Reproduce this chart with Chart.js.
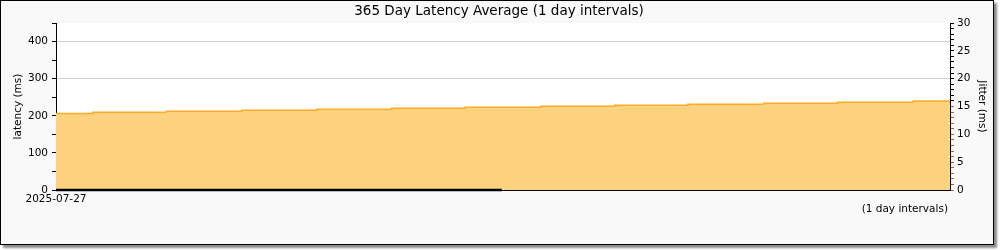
<!DOCTYPE html>
<html><head><meta charset="utf-8">
<script src="https://cdn.jsdelivr.net/npm/chart.js@4.4.0/dist/chart.umd.min.js"></script>
<style>
html,body{margin:0;padding:0;background:#fff;}
#frame{position:absolute;left:0;top:0;width:992px;height:243px;border:1px solid #000;background:#f9f9f9;box-shadow:3px 3px 2px rgba(0,0,0,0.45);}
#wrap{position:absolute;left:0;top:0;width:1000px;height:250px;}
#title{position:absolute;left:0;width:998px;top:2px;text-align:center;font:13.5px "DejaVu Sans";color:#000;line-height:16px;}
#note{position:absolute;left:0;width:948px;top:201px;text-align:right;font:10.5px "DejaVu Sans";color:#000;line-height:14px;}
</style>
</head><body>
<div id="frame"></div>
<div id="wrap"><canvas id="c" width="1000" height="250"></canvas></div>
<div id="title">365 Day Latency Average (1 day intervals)</div>
<div id="note">(1 day intervals)</div>
<script>
// Step boundaries (day index from 2025-07-27) and average latency per step
const segmentStartDay = [0, 15, 45, 76, 106.5, 137, 167, 198, 228, 258, 289, 319, 350, 365];
const latencyAvgMs   = [206, 209.5, 212, 215, 217.7, 220.4, 223, 225.9, 228.6, 231.3, 234, 236.7, 239.5, 239.5];
const jitterDays = [0, 182];
const jitterMs   = [0, 0];
const xTickLabels = ['2025-07-27'];
const latencyTicksMax = 450;
const jitterTicksMax = 30;

Chart.defaults.font.family = 'DejaVu Sans';
Chart.defaults.font.size = 10.5;
Chart.defaults.color = '#000';

const whiteArea = {
  id: 'whiteArea',
  beforeDraw(chart) {
    const {ctx, chartArea: a} = chart;
    ctx.save();
    ctx.fillStyle = '#ffffff';
    ctx.fillRect(a.left, a.top, a.right - a.left, a.bottom - a.top);
    ctx.restore();
  }
};

new Chart(document.getElementById('c'), {
  type: 'line',
  data: {
    datasets: [
      {
        label: 'latency',
        data: segmentStartDay.map((d, i) => ({x: d, y: latencyAvgMs[i]})),
        yAxisID: 'y', stepped: true, fill: 'origin',
        backgroundColor: '#ffd27f', borderColor: '#ffab26', borderWidth: 1.5,
        pointRadius: 0, order: 2
      },
      {
        label: 'jitter',
        data: jitterDays.map((d, i) => ({x: d, y: jitterMs[i]})),
        yAxisID: 'y2', fill: false, borderColor: '#000', borderWidth: 2.5,
        pointRadius: 0, clip: false, order: 1
      }
    ]
  },
  options: {
    responsive: false, animation: false, devicePixelRatio: 1,
    layout: {padding: {top: 23, left: 0, right: 0, bottom: 0}},
    plugins: {legend: {display: false}, title: {display: false}, tooltip: {enabled: false}},
    scales: {
      x: {
        type: 'linear', min: 0, max: 365, z: 1,
        grid: {display: false, drawTicks: false},
        border: {color: '#000', width: 1},
        afterBuildTicks: s => { s.ticks = [{value: 0}]; },
        ticks: {callback: v => v === 0 ? xTickLabels[0] : '', padding: 3, maxRotation: 0, autoSkip: false},
        afterFit: s => { s.height = 60; }
      },
      y: {
        position: 'left', min: 0, max: latencyTicksMax, z: 1,
        ticks: {stepSize: 50, padding: 4, autoSkip: false, callback: v => v % 100 === 0 ? String(v) : ''},
        grid: {
          color: c => (c.tick && c.tick.value % 100 === 0 && c.tick.value > 0) ? 'rgba(0,0,0,0.18)' : 'rgba(0,0,0,0)',
          tickColor: '#000', tickLength: 4, drawTicks: true
        },
        border: {color: '#000'},
        title: {display: true, text: 'latency (ms)', padding: {top: 12, bottom: 0}},
        afterFit: s => { s.width = 56; }
      },
      y2: {
        position: 'right', min: 0, max: jitterTicksMax,
        ticks: {stepSize: 1, padding: 3, autoSkip: false, callback: v => v % 5 === 0 ? String(v) : ''},
        grid: {
          drawOnChartArea: false, tickLength: 4,
          tickColor: c => (c.tick && c.tick.value <= 15) ? '#9a6a20' : '#000'
        },
        border: {color: '#000'},
        title: {display: true, text: 'Jitter (ms)', padding: {top: 12, bottom: 0}},
        afterFit: s => { s.width = 50; }
      }
    }
  },
  plugins: [whiteArea]
});
</script>
</body></html>
